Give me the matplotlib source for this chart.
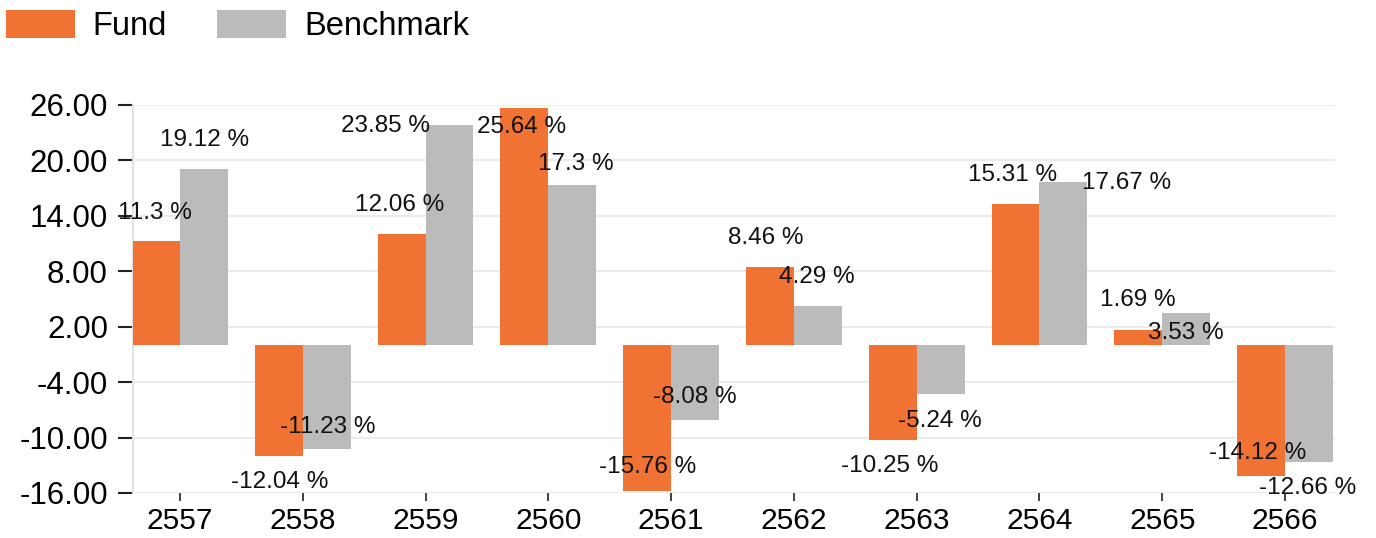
import matplotlib.pyplot as plt
import numpy as np

# data
years = ['2557', '2558', '2559', '2560', '2561', '2562', '2563', '2564', '2565', '2566']
fund = [11.3, -12.04, 12.06, 25.64, -15.76, 8.46, -10.25, 15.31, 1.69, -14.12]
benchmark = [19.12, -11.23, 23.85, 17.3, -8.08, 4.29, -5.24, 17.67, 3.53, -12.66]
y_ticks = [-16, -10, -4, 2, 8, 14, 20, 26]

# label offsets in pixels (dx, dy) from bar end, mimicking smart labels
fund_off = [(-1, 28), (1, -26), (-2, 29), (-3, -19), (0, 24),
            (-4, 29), (-3, -26), (-3, 29), (0, 30), (-3, 23)]
bench_off = [(1, 29), (1, 22), (-64, -1), (4, 21), (0, 23),
             (-1, 29), (-1, -27), (63, -1), (0, -20), (-1, -26)]

orange = '#F07333'
grey = '#BBBBBB'

plt.rcParams['font.family'] = ['Liberation Sans', 'DejaVu Sans']

fig = plt.figure(figsize=(13.76, 5.38), dpi=100)
ax = fig.add_axes([133 / 1376, 45 / 538, 1202 / 1376, 388 / 538])

x = np.arange(len(years))
w = 0.39
b1 = ax.bar(x - w / 2, fund, w, color=orange, label='Fund', zorder=3)
b2 = ax.bar(x + w / 2, benchmark, w, color=grey, label='Benchmark', zorder=3)

px = 0.72  # points per pixel at dpi 100
for bars, vals, offs in [(b1, fund, fund_off), (b2, benchmark, bench_off)]:
    for r, v, (dx, dy) in zip(bars, vals, offs):
        ax.annotate(f'{v:g} %', (r.get_x() + r.get_width() / 2, v),
                    xytext=(dx * px, dy * px), textcoords='offset points',
                    ha='center', va='center', fontsize=17.5, color='#111111',
                    zorder=5)

ax.set_xlim(-0.383, 9.407)
ax.set_ylim(-16, 26)
ax.set_yticks(y_ticks)
ax.set_yticklabels([f'{t:.2f}' for t in y_ticks])
ax.set_xticks(x)
ax.set_xticklabels(years)
ax.grid(axis='y', color='#EBEBEB', linewidth=1.5, zorder=0)
for s in ['top', 'right', 'bottom']:
    ax.spines[s].set_visible(False)
ax.spines['left'].set_color('#E3E3E3')
ax.spines['left'].set_linewidth(1.5)
ax.tick_params(axis='y', length=11, width=1.5, color='#222222', labelsize=22.5, pad=7)
ax.tick_params(axis='x', length=6, width=1.2, color='#222222', labelsize=21.5, pad=4)

fig.legend(loc='upper left', bbox_to_anchor=(6 / 1376, 1 - 10 / 538), frameon=False,
           ncol=2, fontsize=23.5, handlelength=2.1, handleheight=0.92,
           handletextpad=0.55, columnspacing=1.55, borderpad=0, borderaxespad=0)

fig.savefig('out.png', dpi=100)
